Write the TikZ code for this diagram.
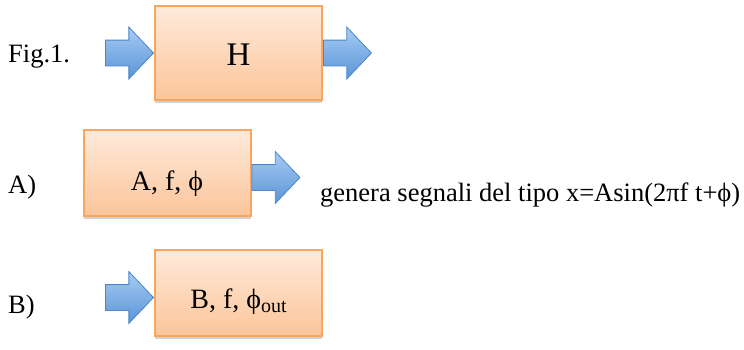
\documentclass[tikz,border=0pt]{standalone}
\usepackage{fontspec}
\setmainfont{Liberation Serif}
\usetikzlibrary{positioning, shapes.arrows, shadows}
\definecolor{boxline}{HTML}{F9A55E}
\definecolor{boxtop}{HTML}{FEEADB}
\definecolor{boxbot}{HTML}{FBC59A}
\definecolor{arrowline}{HTML}{4A86C8}
\definecolor{arrowtop}{HTML}{A6CBF2}
\definecolor{arrowbot}{HTML}{5B94D8}
\tikzset{
    every node/.style={font=\fontsize{26.5}{30}\selectfont},
    orangebox/.style={draw=boxline, line width=2pt, top color=boxtop, bottom color=boxbot,
        minimum width=167pt, minimum height=86pt, inner sep=0pt,
        drop shadow={fill=black, opacity=0.18, shadow xshift=0pt, shadow yshift=-3pt}},
    bluearrow/.style={shape=single arrow, draw=arrowline, line width=0.8pt,
        top color=arrowtop, bottom color=arrowbot, minimum height=48pt,
        inner xsep=0pt, inner ysep=12.5pt,
        single arrow head extend=13pt, single arrow head indent=0pt,
        single arrow tip angle=93},
    casetag/.style={anchor=base west, inner sep=0pt},
}
\begin{document}
\begin{tikzpicture}[x=1pt, y=-1pt]
\useasboundingbox (0,0) rectangle (744,349);
% Fig.1: system block with input and output
\node[orangebox, minimum height=94pt] (H) at (238.5,53)
    {\raisebox{-12pt}[0pt][0pt]{\fontsize{33}{36}\selectfont H}};
\node[bluearrow, left=0pt of H] (inH) {};
\node[bluearrow, right=0pt of H] (outH) {};
\node[casetag] (fig) at (8,62) {Fig.1.};
% A) generator
\node[orangebox] (gen) at (167,173)
    {\raisebox{-17pt}[0pt][0pt]{\fontsize{28}{32}\selectfont A, f, ϕ}};
\node[bluearrow, right=0pt of gen, yshift=-4.5pt] (outgen) {};
\node[casetag] (tagA) at (8,193) {A)};
\node[casetag] (desc) at (320,201) {genera segnali del tipo x=Asin(2πf t+ϕ)};
% B) receiver
\node[orangebox] (rec) at (238.5,293)
    {\raisebox{-15pt}[0pt][0pt]{\fontsize{28}{32}\selectfont B, f, ϕ\raisebox{-4pt}{\fontsize{20}{22}\selectfont out}}};
\node[bluearrow, left=0pt of rec, yshift=-4.5pt] (inrec) {};
\node[casetag] (tagB) at (8,313) {B)};
\end{tikzpicture}
\end{document}
